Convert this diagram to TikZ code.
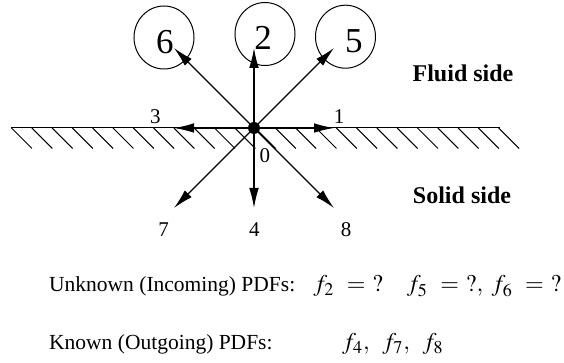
\documentclass[tikz,border=0pt]{standalone}
\usepackage{mathptmx}
\usepackage{fontspec}
\setmainfont{Liberation Serif}
\usetikzlibrary{arrows.meta,shapes.geometric}

\begin{document}
\begin{tikzpicture}[x=0.5pt,y=-0.5pt,line width=0.6pt,>={Latex[length=10pt,width=4.8pt]},
    ring/.style={draw,line width=0.5pt,ellipse,minimum width=30pt,minimum height=31.5pt,inner sep=0pt},
    bignum/.style={font=\fontsize{17.5}{20}\selectfont,inner sep=0pt},
    dirnum/.style={font=\fontsize{10.5}{12}\selectfont,inner sep=0pt},
    side/.style={font=\fontsize{12}{14}\selectfont\bfseries,inner sep=0pt},
    txt/.style={font=\fontsize{10.75}{13}\selectfont,inner sep=0pt,anchor=base west},
    pdf/.style={font=\fontsize{12}{14}\selectfont,inner sep=0pt,anchor=base west}]
  \useasboundingbox (0,0) rectangle (564,363);
  \clip (0,0) rectangle (564,363);
  % pared
  \foreach \i in {0,...,24}
    \draw[line width=0.5pt] (11.5+20.3*\i,128) -- ++(20.5,20.5);
  \draw[line width=0.5pt] (11.5,128) -- (499.5,128);
  % direcciones desde O
  \coordinate (O) at (254,128);
  \foreach \name/\dx/\dy in {e1/80/0,e2/0/-80,e3/-80/0,e4/0/80,e5/80/-80,e6/-80/-80,e7/-80/80,e8/80/80}
    {\coordinate (\name) at (254+\dx,128+\dy);
     \draw[->] (O) -- (\name);}
  \fill (O) circle(3pt);
  % desconocidas
  \node[ring] (c6) at (164,37.5) {};
  \node[ring] (c2) at (265,34) {};
  \node[ring] (c5) at (345.5,36.7) {};
  \node[bignum] (n6) at (165,41.7) {6};
  \node[bignum] (n2) at (263,38) {2};
  \node[bignum] (n5) at (354,41.7) {5};
  % etiquetas
  \node[dirnum] (l3) at (155.4,116.7) {3};
  \node[dirnum] (l1) at (339,116.7) {1};
  \node[dirnum] (l0) at (265,156) {0};
  \node[dirnum] (l7) at (163.7,230) {7};
  \node[dirnum] (l4) at (254.3,230) {4};
  \node[dirnum] (l8) at (346,230) {8};
  \node[side] (fluid) at (463,73) {Fluid side};
  \node[side] (solid) at (462,195) {Solid side};
  % funciones
  \node[txt] (unk) at (48.6,292) {Unknown (Incoming) PDFs:};
  \node[pdf,anchor=base east] (unkf) at (562,292)
    {$f_2\hspace{3.5pt}=\hspace{3.5pt}?\hspace{12pt}f_5\hspace{3.5pt}=\hspace{3.5pt}?,\hspace{3pt}f_6\hspace{3.5pt}=\hspace{3.5pt}?$};
  \node[txt] (kn) at (48.6,350) {Known (Outgoing) PDFs:};
  \node[pdf] (knf) at (341.7,350) {$f_4,\hspace{5pt}f_7,\hspace{5pt}f_8$};
\end{tikzpicture}
\end{document}
